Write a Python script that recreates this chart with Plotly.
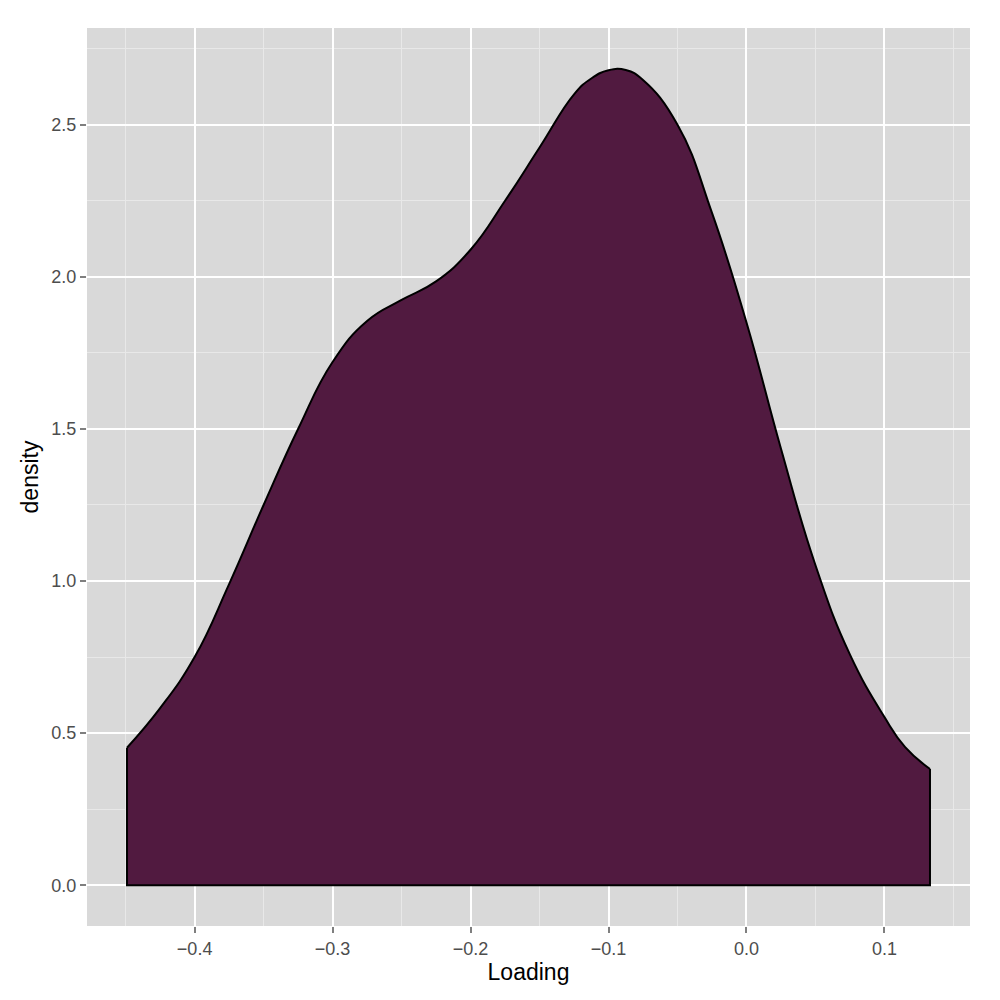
import plotly.graph_objects as go

# density curve (Loading vs density)
loading = [-0.449, -0.425, -0.400, -0.375, -0.350, -0.325, -0.300, -0.275, -0.250, -0.225,
           -0.200, -0.175, -0.150, -0.125, -0.1125, -0.100, -0.0875, -0.075, -0.050, -0.025,
           0.000, 0.025, 0.050, 0.075, 0.100, 0.115, 0.133]
density = [0.452, 0.582, 0.750, 0.990, 1.250, 1.500, 1.720, 1.855, 1.924, 1.985,
           2.089, 2.250, 2.425, 2.600, 2.652, 2.679, 2.680, 2.647, 2.500, 2.210,
           1.850, 1.435, 1.052, 0.758, 0.553, 0.454, 0.382]

x_ticks = [-0.4, -0.3, -0.2, -0.1, 0.0, 0.1]
y_ticks = [0.0, 0.5, 1.0, 1.5, 2.0, 2.5]

fill_col = "#511a40"

fig = go.Figure()
fig.add_trace(go.Scatter(x=loading, y=density, mode="lines", fill="tozeroy",
                         fillcolor=fill_col, line=dict(color="black", width=2, shape="spline", smoothing=1.3),
                         hoverinfo="skip", showlegend=False))
# sides and base of the area outline
fig.add_trace(go.Scatter(x=[loading[0], loading[0], loading[-1], loading[-1]],
                         y=[density[0], 0, 0, density[-1]], mode="lines",
                         line=dict(color="black", width=2), hoverinfo="skip", showlegend=False))

axis_common = dict(showline=False, zeroline=False, gridcolor="white", gridwidth=2,
                   ticks="outside", ticklen=6, tickwidth=1.5, tickcolor="#7f7f7f",
                   tickfont=dict(size=18, color="#4d4d4d"))

fig.update_layout(
    width=1000, height=1000,
    paper_bgcolor="white", plot_bgcolor="#d9d9d9",
    font=dict(family="Liberation Sans, Arial, sans-serif"),
    margin=dict(l=79, r=38, t=20, b=82),
    xaxis=dict(range=[-0.478, 0.162], tickvals=x_ticks, tickformat=".1f",
               title=dict(text="Loading", font=dict(size=23, color="black"), standoff=4),
               minor=dict(dtick=0.05, tick0=0, showgrid=True, gridcolor="#e8e8e8", gridwidth=1, ticklen=0),
               **axis_common),
    yaxis=dict(range=[-0.134, 2.818], tickvals=y_ticks, tickformat=".1f",
               title=dict(text="density", font=dict(size=23, color="black"), standoff=6),
               minor=dict(dtick=0.25, tick0=0, showgrid=True, gridcolor="#e8e8e8", gridwidth=1, ticklen=0),
               **axis_common),
)

fig.write_html("out.html")
